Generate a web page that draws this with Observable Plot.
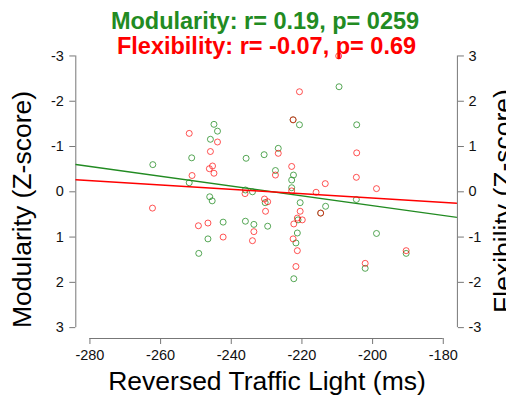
<!DOCTYPE html>
<html><head><meta charset="utf-8">
<script src="https://cdn.jsdelivr.net/npm/d3@7"></script>
<script src="https://cdn.jsdelivr.net/npm/@observablehq/plot@0.6"></script>
<style>
body{margin:0;background:#fff}
#chart svg{font-family:"Liberation Sans",Arial,sans-serif;overflow:hidden}
</style>
</head><body><div id="chart"></div>
<script>
// Modularity (green, left axis, inverted)
const modX = [-262.2,-251.2,-244.9,-243.9,-245.9,-251.9,-235.8,-246.1,-245.4,-242.3,-246.6,-249.2,-236.0,-233.6,-234.0,-236.0,-209.5,-222.5,-220.7,-204.5,-226.7,-230.7,-227.5,-222.4,-222.9,-222.9,-230.4,-220.5,-214.7,-213.3,-204.6,-229.7,-221.1,-221.3,-221.7,-222.3,-198.9,-202.1,-190.5];
const modZ = [-0.60,-0.75,-1.49,-1.34,-1.16,-0.20,-0.74,0.11,0.20,0.67,1.04,1.36,0.65,0.72,0.00,-0.04,-2.32,-1.59,-1.48,-1.48,-0.96,-0.82,-0.47,-0.37,-0.26,-0.09,0.24,0.24,0.47,0.32,0.17,0.76,0.62,0.91,1.13,1.92,0.92,1.69,1.36];
// Flexibility (red, right axis)
const flexX = [-251.9,-243.9,-245.9,-245.3,-246.2,-244.9,-251.1,-262.3,-249.3,-246.6,-242.3,-233.6,-234.0,-236.1,-209.6,-220.7,-222.5,-226.7,-204.5,-222.9,-227.5,-213.4,-204.6,-198.9,-222.9,-216.0,-230.6,-229.7,-230.3,-220.5,-214.7,-221.3,-219.9,-222.3,-222.5,-221.3,-221.7,-202.1,-190.5];
const flexZ = [1.29,1.10,0.89,0.57,0.51,0.41,0.36,-0.36,-0.75,-0.69,-1.00,-0.88,-1.08,-0.04,3.00,2.21,1.59,0.85,0.86,0.56,0.37,0.18,0.32,0.07,0.02,-0.01,-0.16,-0.22,-0.43,-0.43,-0.47,-0.58,-0.62,-0.71,-1.04,-1.30,-1.65,-1.58,-1.30];
// Fitted lines (value = intercept + slope * x)
const fitMod = {intercept: 2.473, slope: 0.01083};
const fitFlex = {intercept: -1.0945, slope: -0.004787};

const xTicks = [-280,-260,-240,-220,-200,-180];
const yTicks = [-3,-2,-1,0,1,2,3];
const titleMod = "Modularity: r= 0.19, p= 0259";
const titleFlex = "Flexibility: r= -0.07, p= 0.69";
const xLabel = "Reversed Traffic Light (ms)";
const yLabelLeft = "Modularity (Z-score)";
const yLabelRight = "Flexibility (Z-score)";

const GREEN = "#228B22", RED = "#FF0000";

const pad = (a) => { const [lo, hi] = d3.extent(a); const p = 0.04 * (hi - lo); return [lo - p, hi + p]; };
const xDomain = pad(xTicks);
const yDomain = pad(yTicks);

// the shared vertical position is the modularity value; flexibility is mirrored
const modPts = modX.map((x, i) => ({x, y: modZ[i]}));
const flexPts = flexX.map((x, i) => ({x, y: -flexZ[i]}));
const fitRows = [
  ...xDomain.map(x => ({x, y: fitMod.intercept + fitMod.slope * x, s: "mod"})),
  ...xDomain.map(x => ({x, y: -(fitFlex.intercept + fitFlex.slope * x), s: "flex"}))
];

const fmt = d => String(d);
const axisStyle = {stroke: "#777", color: "#111", fontSize: 14.5, tickSize: 6, label: null};

const plot = Plot.plot({
  width: 506, height: 397,
  marginLeft: 75.3, marginRight: 49.1, marginTop: 44.6, marginBottom: 59,
  style: {fontFamily: "Liberation Sans, Arial, sans-serif", background: "#fff"},
  x: {domain: xDomain},
  y: {domain: yDomain, reverse: true},
  marks: [
    Plot.ruleX([xDomain[0]], {y1: d3.min(yTicks), y2: d3.max(yTicks), stroke: "#777"}),
    Plot.ruleX([xDomain[1]], {y1: d3.min(yTicks), y2: d3.max(yTicks), stroke: "#777"}),
    Plot.ruleY([yDomain[1]], {x1: d3.min(xTicks), x2: d3.max(xTicks), stroke: "#777"}),
    Plot.axisY({anchor: "left", ticks: yTicks, tickFormat: fmt, tickPadding: 6, ...axisStyle}),
    Plot.axisY({anchor: "right", ticks: yTicks, tickFormat: d => fmt(-d), tickPadding: 5, ...axisStyle}),
    Plot.axisX({anchor: "bottom", ticks: xTicks, tickFormat: fmt, tickPadding: 5, ...axisStyle}),
    Plot.dot(modPts, {x: "x", y: "y", r: 3, stroke: GREEN, strokeWidth: 0.9, strokeOpacity: 0.85}),
    Plot.dot(flexPts, {x: "x", y: "y", r: 3, stroke: RED, strokeWidth: 0.9, strokeOpacity: 0.75}),
    Plot.line(fitRows.filter(d => d.s === "mod"), {x: "x", y: "y", stroke: GREEN, strokeWidth: 1.4, clip: true}),
    Plot.line(fitRows.filter(d => d.s === "flex"), {x: "x", y: "y", stroke: RED, strokeWidth: 1.4, clip: true})
  ]
});

const svg = d3.select(plot);
const addText = (txt, x, y, opts) => {
  const t = svg.append("text").attr("x", x).attr("y", y).text(txt)
    .attr("text-anchor", "middle").attr("fill", opts.fill || "#000")
    .attr("font-size", opts.size).attr("font-weight", opts.weight || "normal");
  if (opts.rotate) t.attr("transform", `rotate(${opts.rotate},${x},${y})`);
  return t;
};
addText(titleMod, 265, 29, {fill: GREEN, size: 23.5, weight: "bold"});
addText(titleFlex, 266.5, 53.5, {fill: RED, size: 23.5, weight: "bold"});
addText(xLabel, 267, 389.5, {size: 26.5});
addText(yLabelLeft, 31, 209.5, {size: 26.5, rotate: -90});
addText(yLabelRight, 512, 201, {size: 26.5, rotate: -90});

document.getElementById("chart").appendChild(plot);
</script>
</body></html>
